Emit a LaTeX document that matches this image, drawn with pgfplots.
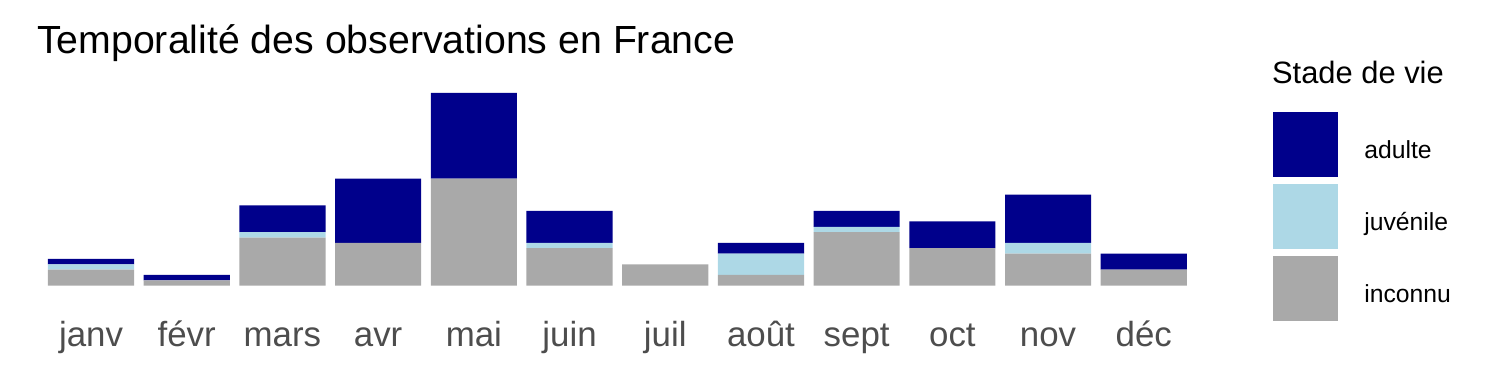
\documentclass[border=0pt]{standalone}
\usepackage{fontspec}
\setmainfont{Liberation Sans}
\usepackage{pgfplots}
\pgfplotsset{compat=1.18}
\definecolor{adultc}{HTML}{00008B}
\definecolor{juvc}{HTML}{ADD8E6}
\definecolor{inconc}{HTML}{A9A9A9}
\definecolor{ticktxt}{HTML}{4D4D4D}
\begin{document}
\begin{tikzpicture}
\useasboundingbox (0,0) rectangle (750bp,-187.5bp);
\begin{axis}[
  at={(16.8bp,-142.85bp)}, anchor=south west,
  scale only axis,
  width=583.8bp, height=96.35bp,
  ybar stacked, bar width=0.9, bar shift=0pt,
  xmin=-0.6, xmax=11.6, ymin=0, ymax=36,
  xtick={0,...,11},
  xticklabels={janv,févr,mars,avr,mai,juin,juil,août,sept,oct,nov,déc},
  xticklabel style={anchor=base, yshift=-30.5bp, font=\fontsize{17.5}{20}\selectfont, text=ticktxt, inner sep=0pt},
  ytick=\empty,
  axis line style={draw=none},
  major tick length=0pt,
  clip=false,
  reverse legend,
  legend cell align=left,
  legend image code/.code={\fill[#1] (0bp,-13bp) rectangle (32.5bp,19.5bp);},
  legend style={at={(1.0613,0.903)}, anchor=north west, draw=none, fill=none,
    inner sep=0pt, outer sep=0pt, row sep=3.5bp,
    font=\fontsize{12.4}{14}\selectfont,
    nodes={inner sep=0pt},
    /tikz/every odd column/.append style={column sep=13.3bp}},
]
\addplot[fill=inconc, draw=none] coordinates {(0,3) (1,1) (2,9) (3,8) (4,20) (5,7) (6,4) (7,2) (8,10) (9,7) (10,6) (11,3)};
\addlegendentry{inconnu}
\addplot[fill=juvc, draw=none] coordinates {(0,1) (1,0) (2,1) (3,0) (4,0) (5,1) (6,0) (7,4) (8,1) (9,0) (10,2) (11,0)};
\addlegendentry{juvénile}
\addplot[fill=adultc, draw=none] coordinates {(0,1) (1,1) (2,5) (3,12) (4,16) (5,6) (6,0) (7,2) (8,3) (9,5) (10,9) (11,3)};
\addlegendentry{adulte}
\end{axis}
\node[anchor=base west, inner sep=0pt, font=\fontsize{19.7}{22}\selectfont] at (18.35bp,-26.65bp) {Temporalité des observations en France};
\node[anchor=base west, inner sep=0pt, font=\fontsize{15.5}{18}\selectfont] at (635.85bp,-41.65bp) {Stade de vie};
\end{tikzpicture}
\end{document}
